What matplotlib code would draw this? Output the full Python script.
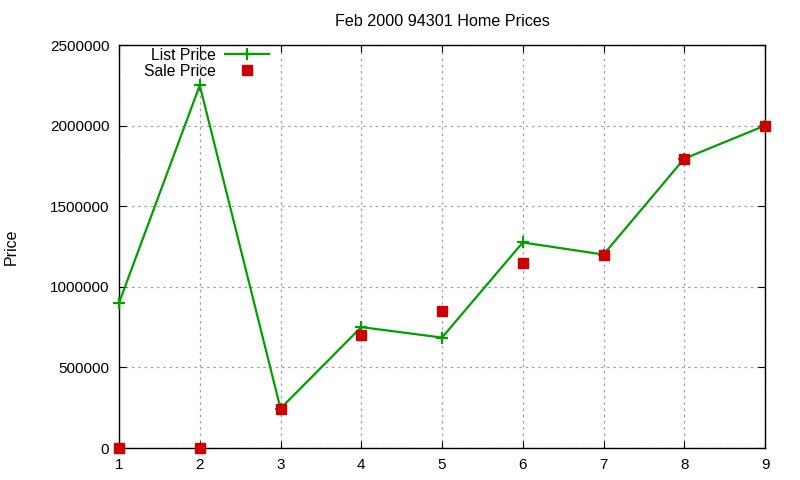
import matplotlib
matplotlib.use("Agg")
import matplotlib.pyplot as plt

x = [1, 2, 3, 4, 5, 6, 7, 8, 9]
list_price = [900000, 2250000, 245000, 750000, 685000, 1275000, 1200000, 1795000, 2000000]
sale_price = [0, 0, 245000, 700000, 850000, 1150000, 1200000, 1795000, 2000000]
yticks = [0, 500000, 1000000, 1500000, 2000000, 2500000]

plt.rcParams['font.family'] = ['Liberation Sans', 'DejaVu Sans']

fig = plt.figure(figsize=(8, 4.8), dpi=100)
ax = fig.add_axes([119/800, 32/480, (765-119)/800, (448-45)/480])

ax.plot(x, list_price, color='#00a000', lw=1.6, marker='+', ms=8, mew=1.6,
        label='List Price', clip_on=False, zorder=3)
ax.plot(x, sale_price, ls='none', color='#cc0000', marker='s', ms=6.5,
        label='Sale Price', clip_on=False, zorder=4)

ax.set_xlim(1, 9)
ax.set_ylim(0, 2500000)
ax.set_xticks(x)
ax.set_yticks(yticks)
ax.set_yticklabels([str(v) for v in yticks])
ax.tick_params(direction='in', top=True, right=True, labelsize=11, length=5)
ax.tick_params(axis='x', pad=7)
ax.tick_params(axis='y', pad=7)
ax.grid(True, color='#a0a0a0', ls=(0, (2, 3)), lw=0.9)
for s in ax.spines.values():
    s.set_linewidth(1.0)

ax.set_title('Feb 2000 94301 Home Prices', fontsize=11.6, pad=14)
ax.set_ylabel('Price', fontsize=11.5, labelpad=22)

ax.legend(loc='upper left', bbox_to_anchor=(0.022, 1.02), frameon=False,
          markerfirst=False, fontsize=11.3, handlelength=2.75, handletextpad=0.6,
          labelspacing=0.05, borderpad=0.2)

fig.savefig('out.png', dpi=100)
